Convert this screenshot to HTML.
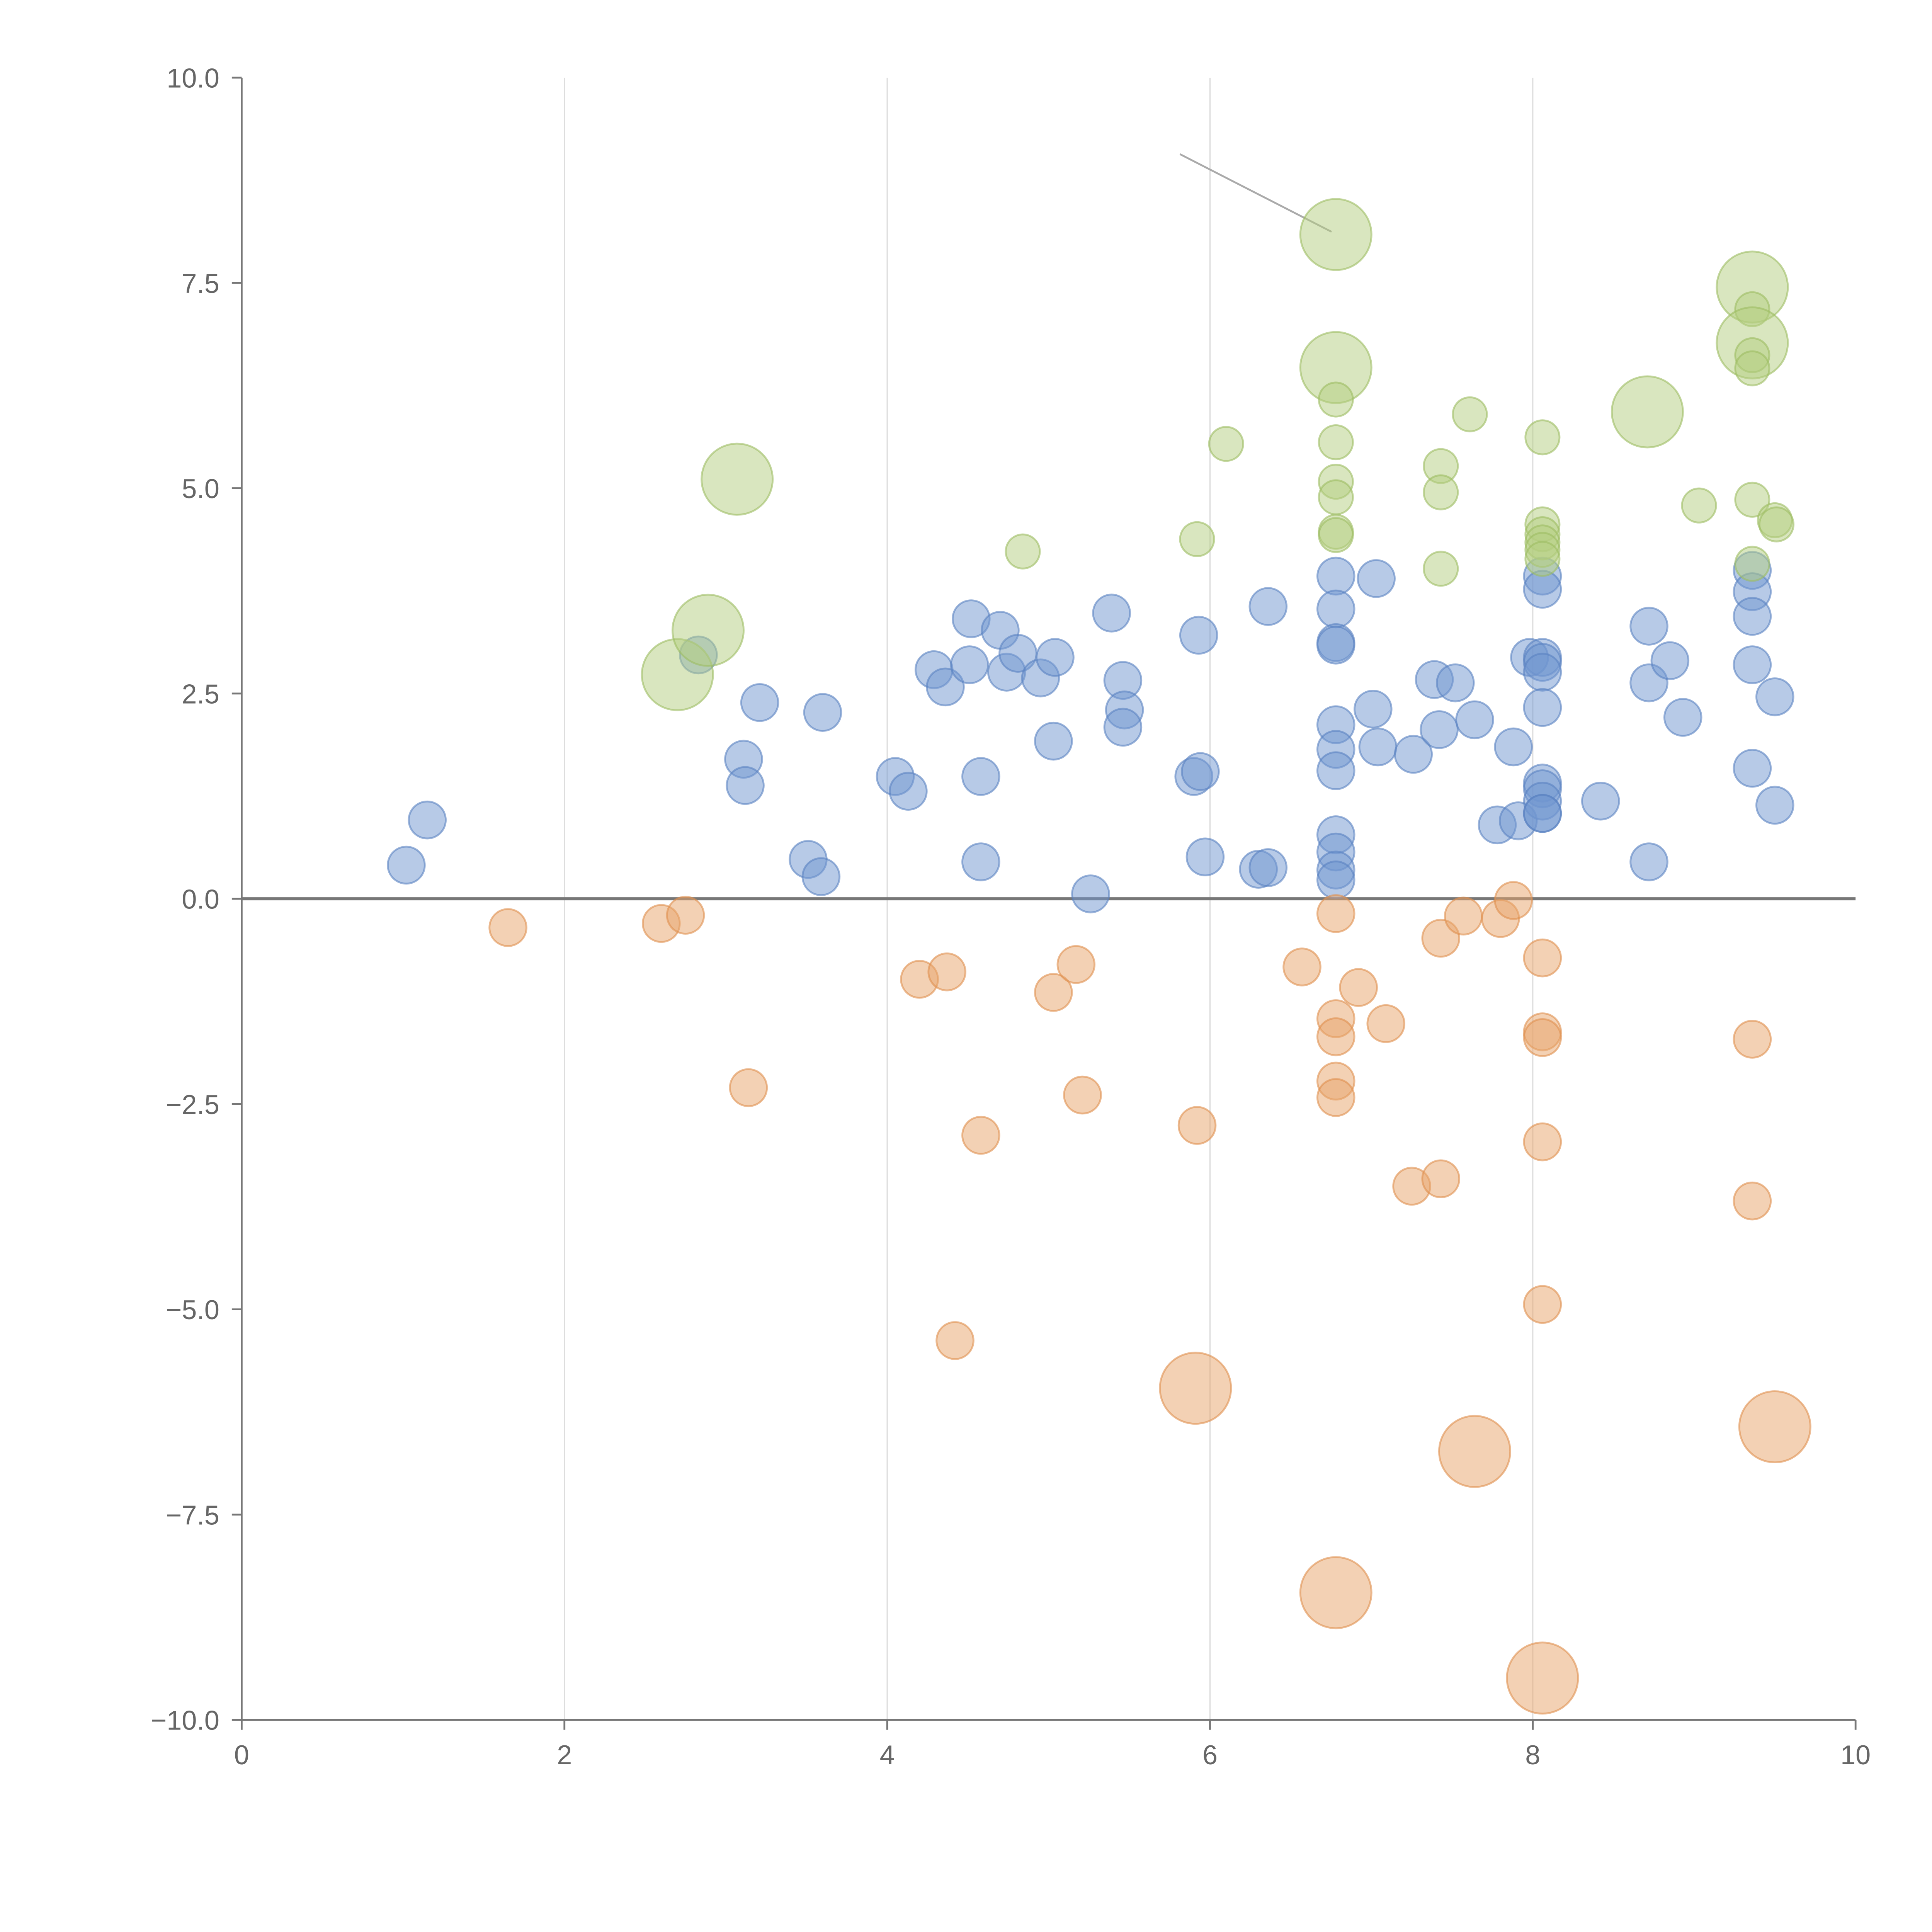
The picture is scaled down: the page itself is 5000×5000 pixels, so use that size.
<!DOCTYPE html>
<html><head><meta charset="utf-8">
<style>
html,body{margin:0;padding:0;background:#fff;}
svg{display:block;}
text{font-family:"Liberation Sans",Arial,sans-serif;fill:#666;}
</style></head>
<body>
<svg id="chart" width="5000" height="5000" viewBox="0 0 1567 1567" xmlns="http://www.w3.org/2000/svg">
<g id="grid"></g>
<g id="axes"></g>
<g id="marks"></g>
</svg>
<script>
const xTicks = [0,2,4,6,8,10];
const yTicks = [-10,-7.5,-5,-2.5,0,2.5,5,7.5,10];
const yTickLabels = ["\u221210.0","\u22127.5","\u22125.0","\u22122.5","0.0","2.5","5.0","7.5","10.0"];

const blueX = [1.02,1.15,2.83,3.11,3.12,3.21,3.51,3.59,3.6,4.05,4.13,4.29,4.36,4.51,4.52,4.58,4.58,4.7,4.74,4.81,4.95,5.03,5.04,5.26,5.39,5.46,5.47,5.46,5.9,5.94,5.93,5.97,6.3,6.36,6.36,6.78,6.78,6.78,6.78,6.78,6.78,6.78,6.78,6.78,6.78,6.78,7.03,7.01,7.04,7.26,7.39,7.42,7.52,7.64,7.78,7.88,7.91,7.98,8.06,8.06,8.06,8.06,8.06,8.06,8.06,8.06,8.06,8.06,8.06,8.42,8.72,8.72,8.72,8.85,8.93,9.36,9.36,9.36,9.36,9.36,9.5,9.5];
const blueY = [0.41,0.96,2.97,1.7,1.38,2.39,0.48,0.27,2.27,1.49,1.31,2.79,2.58,2.85,3.41,1.49,0.45,3.27,2.76,2.99,2.69,1.92,2.94,0.06,3.48,2.66,2.3,2.09,1.49,1.55,3.21,0.51,0.36,0.38,3.56,3.93,3.53,3.12,3.09,2.12,1.82,1.56,0.78,0.57,0.35,0.23,3.9,2.31,1.85,1.76,2.67,2.06,2.63,2.18,0.9,1.85,0.95,2.94,3.93,3.77,2.94,2.88,2.76,2.33,1.41,1.34,1.19,1.04,1.04,1.19,3.32,2.63,0.45,2.9,2.21,4.0,3.74,3.44,2.85,1.59,2.46,1.14];

const orangeX = [1.65,2.6,2.75,3.14,4.2,4.37,4.42,4.58,5.03,5.17,5.21,5.92,5.91,6.57,6.78,6.78,6.78,6.78,6.78,6.78,6.92,7.09,7.25,7.43,7.43,7.57,7.64,7.8,7.88,8.06,8.06,8.06,8.06,8.06,8.06,9.36,9.36,9.5];
const orangeY = [-0.35,-0.3,-0.2,-2.3,-0.98,-0.89,-5.38,-2.88,-1.14,-0.8,-2.39,-2.76,-5.96,-0.83,-0.18,-1.46,-1.68,-2.22,-2.42,-8.45,-1.08,-1.52,-3.5,-3.41,-0.48,-0.21,-6.73,-0.24,-0.02,-0.72,-1.62,-1.69,-2.96,-4.94,-9.49,-1.71,-3.68,-6.43];
const orangeSize = [1,1,1,1,1,1,1,1,1,1,1,1,3.7,1,1,1,1,1,1,3.7,1,1,1,1,1,1,3.7,1,1,1,1,1,1,1,3.7,1,1,3.7];

const greenX = [2.7,2.89,3.07,4.84,5.92,6.1,6.78,6.78,6.78,6.78,6.78,6.78,6.78,6.78,7.43,7.43,7.43,7.61,8.06,8.06,8.06,8.06,8.06,8.06,8.71,9.03,9.36,9.36,9.36,9.36,9.36,9.36,9.36,9.5,9.51];
const greenY = [2.73,3.27,5.11,4.23,4.38,5.54,8.09,6.47,6.08,5.56,5.08,4.89,4.47,4.43,5.27,4.95,4.02,5.9,5.62,4.56,4.44,4.34,4.25,4.14,5.93,4.79,7.45,7.18,6.77,6.62,6.46,4.86,4.08,4.61,4.56];
const greenSize = [3.7,3.7,3.7,0.85,0.85,0.85,3.7,3.7,0.85,0.85,0.85,0.85,0.85,0.85,0.85,0.85,0.85,0.85,0.85,0.85,0.85,0.85,0.85,0.85,3.7,0.85,3.7,0.85,3.7,0.85,0.85,0.85,0.85,0.85,0.85];

const NS = "http://www.w3.org/2000/svg";
const X0 = 196, X1 = 1505, Y0 = 1395, Y1 = 63;
function xs(v){ return X0 + (v - 0) / 10 * (X1 - X0); }
function ys(v){ return Y0 - (v + 10) / 20 * (Y0 - Y1); }
function rs(s){ return 15 * Math.sqrt(s); }
function mk(tag, attrs, parent){
  const e = document.createElementNS(NS, tag);
  for (const k in attrs) e.setAttribute(k, attrs[k]);
  parent.appendChild(e);
  return e;
}
const grid = document.getElementById('grid');
const axes = document.getElementById('axes');
const marks = document.getElementById('marks');

xTicks.forEach(t => {
  if (t > 0 && t < 10) {
    const g = mk('line', {x1: xs(t), x2: xs(t), y1: Y1, y2: Y0, stroke: '#ddd', 'stroke-width': 1}, grid);
    
    
  }
  const tk = mk('line', {x1: xs(t), x2: xs(t), y1: Y0, y2: Y0 + 8, stroke: '#777', 'stroke-width': 1.5}, axes);
  
  
  const tx = mk('text', {x: xs(t), y: Y0 + 36, 'text-anchor': 'middle', 'font-size': 22}, axes);
  tx.textContent = String(t);
  
  
});
yTicks.forEach((t, i) => {
  const tk = mk('line', {x1: X0 - 8, x2: X0, y1: ys(t), y2: ys(t), stroke: '#777', 'stroke-width': 1.5}, axes);
  
  
  const tx = mk('text', {x: X0 - 18, y: ys(t) + 8, 'text-anchor': 'end', 'font-size': 22}, axes);
  tx.textContent = yTickLabels[i];
  
  
});
const ya = mk('line', {x1: X0, x2: X0, y1: Y1, y2: Y0, stroke: '#777', 'stroke-width': 1.5}, axes);


const xa = mk('line', {x1: X0, x2: X1, y1: Y0, y2: Y0, stroke: '#777', 'stroke-width': 1.5}, axes);



function drawSeries(xArr, yArr, sArr, fill, stroke, name){
  xArr.forEach((x, i) => {
    const c = mk('circle', {cx: xs(x), cy: ys(yArr[i]), r: rs(sArr ? sArr[i] : 1), fill: fill, 'fill-opacity': 0.5, stroke: stroke, 'stroke-opacity': 0.6, 'stroke-width': 1.5}, marks);
    
    
  });
}
drawSeries(blueX, blueY, null, '#6f95cf', '#5a82c2', 'bubble-blue');
drawSeries(orangeX, orangeY, orangeSize, '#e8a36a', '#e0904f', 'bubble-orange');
drawSeries(greenX, greenY, greenSize, '#b3cd80', '#9dbd62', 'bubble-green');

const zl = mk('line', {x1: X0, x2: X1, y1: ys(0), y2: ys(0), stroke: '#777', 'stroke-width': 2.5}, axes);


const al = mk('line', {x1: 957, y1: 125, x2: 1080, y2: 188, stroke: '#aaa', 'stroke-width': 1.5}, axes);


</script>
</body></html>
